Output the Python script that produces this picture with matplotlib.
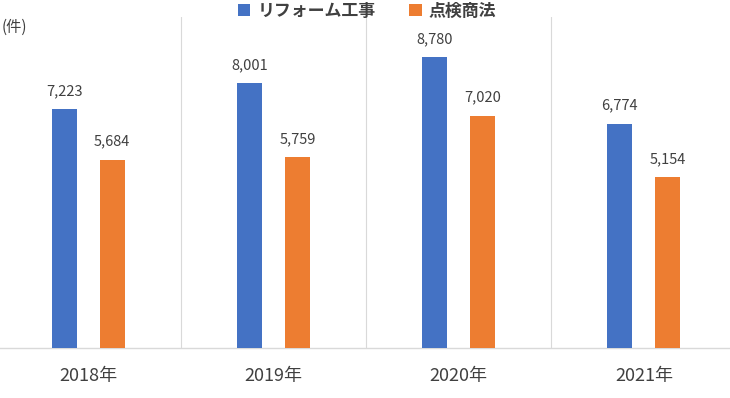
import matplotlib
matplotlib.use("Agg")
import matplotlib.pyplot as plt
from matplotlib.patches import Patch
import numpy as np

plt.rcParams['font.family'] = ['Noto Sans CJK JP', 'DejaVu Sans']

categories = ["2018年", "2019年", "2020年", "2021年"]
series_names = ["リフォーム工事", "点検商法"]
reform = [7223, 8001, 8780, 6774]
tenken = [5684, 5759, 7020, 5154]
colors = ["#4472C4", "#ED7D31"]
text_color = "#404040"

W, H = 730, 398
fig = plt.figure(figsize=(W / 100, H / 100), dpi=100)
ax = fig.add_axes([-4.5 / W, 50 / H, 741 / W, 331 / H])

x = np.arange(len(categories))
offset = 0.13
width = 0.135
b1 = ax.bar(x - offset, reform, width, color=colors[0], zorder=3)
b2 = ax.bar(x + offset, tenken, width, color=colors[1], zorder=3)

for bars, vals in ((b1, reform), (b2, tenken)):
    for rect, v in zip(bars, vals):
        ax.annotate(f"{v:,}", (rect.get_x() + rect.get_width() / 2, v),
                    xytext=(0, 8), textcoords="offset points",
                    ha="center", va="bottom", fontsize=10.5, color=text_color)

ax.set_xlim(-0.5, len(categories) - 0.5)
ax.set_ylim(0, 10000)
for sep in np.arange(0.5, len(categories) - 0.5, 1):
    ax.axvline(sep, color="#d9d9d9", lw=0.8, zorder=1)

for s in ["top", "right", "left"]:
    ax.spines[s].set_visible(False)
ax.spines["bottom"].set_color("#d9d9d9")
ax.spines["bottom"].set_linewidth(1.0)
ax.set_yticks([])
ax.set_xticks(x)
ax.set_xticklabels(categories, fontsize=13, color=text_color)
ax.tick_params(axis="x", length=0, pad=14)

fig.text(2 / W, 1 - 27 / H, "(件)", fontsize=11, color=text_color,
         ha="left", va="center")

handles = [Patch(facecolor=c, edgecolor="none") for c in colors]
leg = fig.legend(handles, series_names, loc="center", ncol=2,
                 bbox_to_anchor=(367 / W, 1 - 11 / H), frameon=False,
                 prop={"size": 12.2, "weight": "bold"},
                 handlelength=0.75, handleheight=0.75, handletextpad=0.4,
                 columnspacing=2.0, labelcolor=text_color)

fig.savefig("out.png", dpi=100)
